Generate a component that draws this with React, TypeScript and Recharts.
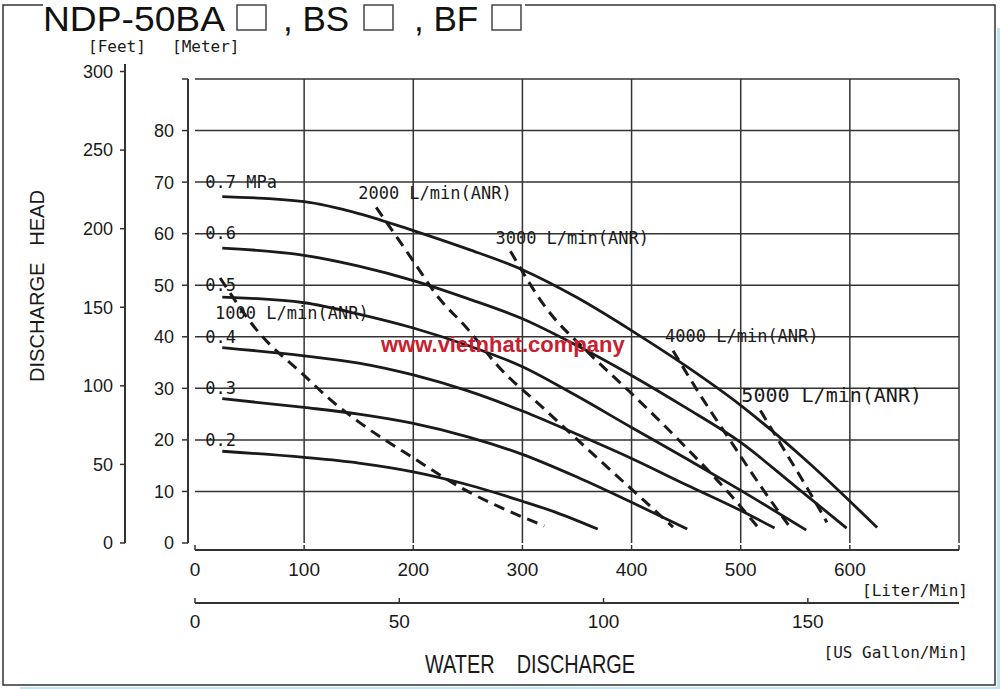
import { LineChart, Line, XAxis, YAxis, ReferenceLine, LabelList } from 'recharts'

type Pt = [number, number]

// axis ticks
const literTicks = [0, 100, 200, 300, 400, 500, 600, 700]
const gallonTicks = [0, 50, 100, 150]
const meterTicks = [0, 10, 20, 30, 40, 50, 60, 70, 80, 90]
const feetTicks = [0, 50, 100, 150, 200, 250, 300]
const gridFlows = [100, 200, 300, 400, 500, 600, 700]
const gridHeads = [10, 20, 30, 40, 50, 60, 70, 80, 90]

// pump curves per air pressure: [L/min, m]
const pressureNames = ['0.7 MPa', '0.6', '0.5', '0.4', '0.3', '0.2']
const curve07: Pt[] = [[25, 67.2], [100, 66.2], [150, 63.9], [200, 60.6], [250, 57.0], [300, 53.0], [350, 47.6], [400, 41.2], [450, 34.3], [500, 26.7], [560, 16.0], [625, 3.0]]
const curve06: Pt[] = [[25, 57.2], [100, 55.8], [150, 53.7], [200, 50.9], [250, 47.4], [300, 43.5], [350, 38.3], [400, 32.5], [450, 26.2], [500, 19.5], [550, 11.0], [597, 2.9]]
const curve05: Pt[] = [[25, 47.7], [100, 46.6], [150, 44.4], [200, 41.7], [250, 38.3], [300, 34.2], [350, 28.5], [400, 22.4], [450, 16.4], [500, 10.2], [560, 2.5]]
const curve04: Pt[] = [[25, 37.9], [100, 36.3], [150, 34.9], [200, 32.6], [250, 29.5], [300, 25.6], [350, 21.1], [400, 16.4], [450, 11.3], [500, 6.3], [531, 2.9]]
const curve03: Pt[] = [[25, 28.0], [100, 26.3], [150, 25.0], [200, 23.2], [250, 20.6], [300, 17.2], [350, 12.8], [400, 7.9], [451, 2.7]]
const curve02: Pt[] = [[25, 17.8], [100, 16.6], [150, 15.5], [200, 13.8], [250, 11.3], [300, 8.1], [330, 6.0], [369, 2.7]]

// air consumption lines
const airNames = ['1000 L/min(ANR)', '2000 L/min(ANR)', '3000 L/min(ANR)', '4000 L/min(ANR)', '5000 L/min(ANR)']
const air1000: Pt[] = [[23, 51.4], [57, 41.2], [100, 32.5], [124, 27.8], [150, 23.5], [200, 16.5], [250, 10.0], [279, 7.0], [320, 3.3]]
const air2000: Pt[] = [[166, 65.1], [200, 54.7], [222, 47.9], [249, 41.7], [279, 34.0], [320, 26.0], [368, 16.6], [410, 8.5], [438, 3.1]]
const air3000: Pt[] = [[289, 56.6], [322, 45.5], [360, 37.0], [400, 29.0], [450, 18.5], [490, 9.5], [518, 2.5]]
const air4000: Pt[] = [[438, 37.3], [465, 28.0], [490, 20.0], [520, 10.5], [545, 3.1]]
const air5000: Pt[] = [[518, 25.7], [540, 18.0], [560, 11.0], [579, 4.0]]

const pressureCurves = [curve07, curve06, curve05, curve04, curve03, curve02]
const airCurves = [air1000, air2000, air3000, air4000, air5000]

// label placement relative to the first point of each line (px)
const pressureLabelOffset: Pt[] = [[-17, -15], [-17, -15], [-17, -12], [-17, -11], [-17, -11], [-17, -11]]
const airLabelOffset: Pt[] = [[-5, 35], [-18, -14], [-15, -13], [-8, -15], [-19, -16]]
const airLabelSize = [17, 17, 17, 17, 20]

const MONO = "'DejaVu Sans Mono', monospace"
const SANS = "'Liberation Sans', Arial, sans-serif"
const NARROW = "'Liberation Sans Narrow', 'Liberation Sans', sans-serif"
const INK = '#1a1a1a'
const GRID = '#333'

const toRows = (pts: Pt[]) => pts.map(([flow, head]) => ({ flow, head }))

const firstLabel = (text: string, off: Pt, size: number) => (props: any) => {
  if (props.index !== 0) return null
  return (
    <text
      x={props.x + off[0]}
      y={props.y + off[1]}
      fontFamily={MONO}
      fontSize={size}
      fill={INK}
      dominantBaseline="central"
    >
      {text}
    </text>
  )
}

export default function App() {
  return (
    <div style={{ position: 'absolute', left: 0, top: 0, width: 1000, height: 689, background: '#fff' }}>
      <LineChart width={1000} height={689} margin={{ top: 64, right: 41, bottom: 0, left: 0 }}>
        {/* bottom axes, nearest first */}
        <XAxis xAxisId="a_gap" type="number" domain={[0, 1]} allowDataOverflow height={7} tick={false} tickLine={false} axisLine={false} />
        <XAxis
          xAxisId="b_liter"
          dataKey="flow"
          type="number"
          domain={[0, 700]}
          allowDataOverflow
          ticks={literTicks}
          interval={0}
          height={53}
          tickSize={-5}
          tickMargin={18}
          tickFormatter={(v: number) => (v === 700 ? '' : String(v))}
          tick={{ fontSize: 19, fontFamily: NARROW, fill: INK }}
          axisLine={{ stroke: GRID, strokeWidth: 2 }}
          tickLine={{ stroke: GRID, strokeWidth: 1.5 }}
        />
        <XAxis
          xAxisId="c_gal"
          dataKey="gal"
          type="number"
          scale="linear"
          domain={[0, 187]}
          allowDataOverflow
          ticks={gallonTicks}
          interval={0}
          height={86}
          tickSize={-5}
          tickMargin={17}
          tick={{ fontSize: 19, fontFamily: NARROW, fill: INK }}
          axisLine={{ stroke: GRID, strokeWidth: 2 }}
          tickLine={{ stroke: GRID, strokeWidth: 1.5 }}
        />
        {/* left axes, nearest first */}
        <YAxis yAxisId="a_gap" type="number" domain={[0, 1]} allowDataOverflow width={7} tick={false} tickLine={false} axisLine={false} />
        <YAxis
          yAxisId="b_meter"
          type="number"
          domain={[0, 90]}
          allowDataOverflow
          ticks={meterTicks}
          interval={0}
          width={63}
          padding={{ top: 15, bottom: 0 }}
          tickSize={6}
          tickMargin={8}
          tickFormatter={(v: number) => (v === 90 ? '' : String(v))}
          tick={{ fontSize: 18, fontFamily: SANS, fill: INK }}
          axisLine={{ stroke: GRID, strokeWidth: 2, strokeDasharray: '0 15 464 200' }}
          tickLine={{ stroke: GRID, strokeWidth: 1.5 }}
        />
        <YAxis
          yAxisId="c_feet"
          type="number"
          domain={[0, 300]}
          allowDataOverflow
          ticks={feetTicks}
          interval={0}
          width={125}
          padding={{ top: 7.5, bottom: 0 }}
          tickSize={5}
          tickMargin={7}
          tick={{ fontSize: 18, fontFamily: SANS, fill: INK }}
          axisLine={{ stroke: GRID, strokeWidth: 2 }}
          tickLine={{ stroke: GRID, strokeWidth: 1.5 }}
        />

        {gridHeads.map((h) => (
          <ReferenceLine
            key={'h' + h}
            xAxisId="b_liter"
            yAxisId="b_meter"
            segment={[{ x: 0, y: h }, { x: 700, y: h }]}
            stroke={GRID}
            strokeWidth={1.5}
          />
        ))}
        {gridFlows.map((f) => (
          <ReferenceLine
            key={'v' + f}
            xAxisId="b_liter"
            yAxisId="b_meter"
            segment={[{ x: f, y: 0 }, { x: f, y: 90 }]}
            stroke={GRID}
            strokeWidth={1.5}
          />
        ))}

        {airCurves.map((pts, i) => (
          <Line
            key={airNames[i]}
            xAxisId="b_liter"
            yAxisId="b_meter"
            data={toRows(pts)}
            dataKey="head"
            type="monotone"
            stroke={INK}
            strokeWidth={3}
            strokeDasharray="11 7"
            dot={false}
            activeDot={false}
            isAnimationActive={false}
          >
            <LabelList dataKey="head" content={firstLabel(airNames[i], airLabelOffset[i], airLabelSize[i])} />
          </Line>
        ))}
        {pressureCurves.map((pts, i) => (
          <Line
            key={pressureNames[i]}
            xAxisId="b_liter"
            yAxisId="b_meter"
            data={toRows(pts)}
            dataKey="head"
            type="monotone"
            stroke={INK}
            strokeWidth={2.8}
            dot={false}
            activeDot={false}
            isAnimationActive={false}
          >
            <LabelList dataKey="head" content={firstLabel(pressureNames[i], pressureLabelOffset[i], 17)} />
          </Line>
        ))}
      </LineChart>

      <svg width={1000} height={689} style={{ position: 'absolute', left: 0, top: 0, pointerEvents: 'none' }}>
        <rect x={997} y={28} width={3} height={661} fill="#bfe4f6" />
        <rect x={20} y={687} width={980} height={2} fill="#bfe4f6" />
        <path d="M43 5 H3 V685 H995 V5 H525" fill="none" stroke="#333" strokeWidth={1.5} />

        <text x={43} y={31} fontFamily={SANS} fontSize={35} fill="#111" textLength={182} lengthAdjust="spacingAndGlyphs">
          NDP-50BA
        </text>
        <rect x={237} y={5} width={29} height={25} fill="none" stroke="#444" strokeWidth={1.5} />
        <text x={283} y={31} fontFamily={SANS} fontSize={35} fill="#111">, BS</text>
        <rect x={364} y={5} width={29} height={25} fill="none" stroke="#444" strokeWidth={1.5} />
        <text x={414} y={31} fontFamily={SANS} fontSize={35} fill="#111">, BF</text>
        <rect x={492} y={5} width={29} height={25} fill="none" stroke="#444" strokeWidth={1.5} />

        <text x={88} y={46} fontFamily={MONO} fontSize={16} fill={INK} dominantBaseline="central">[Feet]</text>
        <text x={172} y={46} fontFamily={MONO} fontSize={16} fill={INK} dominantBaseline="central">[Meter]</text>

        <text
          x={36}
          y={286}
          transform="rotate(-90 36 286)"
          textAnchor="middle"
          dominantBaseline="central"
          fontFamily={SANS}
          fontSize={21}
          fill={INK}
          textLength={192}
          lengthAdjust="spacingAndGlyphs"
          style={{ whiteSpace: 'pre' }}
        >
          DISCHARGE   HEAD
        </text>

        <text x={968} y={590} textAnchor="end" dominantBaseline="central" fontFamily={MONO} fontSize={16} fill={INK}>
          [Liter/Min]
        </text>
        <text x={968} y={652} textAnchor="end" dominantBaseline="central" fontFamily={MONO} fontSize={16} fill={INK}>
          [US Gallon/Min]
        </text>
        <text
          x={530}
          y={664}
          textAnchor="middle"
          dominantBaseline="central"
          fontFamily={SANS}
          fontSize={25}
          fill={INK}
          textLength={210}
          lengthAdjust="spacingAndGlyphs"
          style={{ whiteSpace: 'pre' }}
        >
          WATER    DISCHARGE
        </text>

        <text x={381} y={344} dominantBaseline="central" fontFamily={SANS} fontWeight="bold" fontSize={22} fill="#c8202f">
          www.vietnhat.company
        </text>
      </svg>
    </div>
  )
}
